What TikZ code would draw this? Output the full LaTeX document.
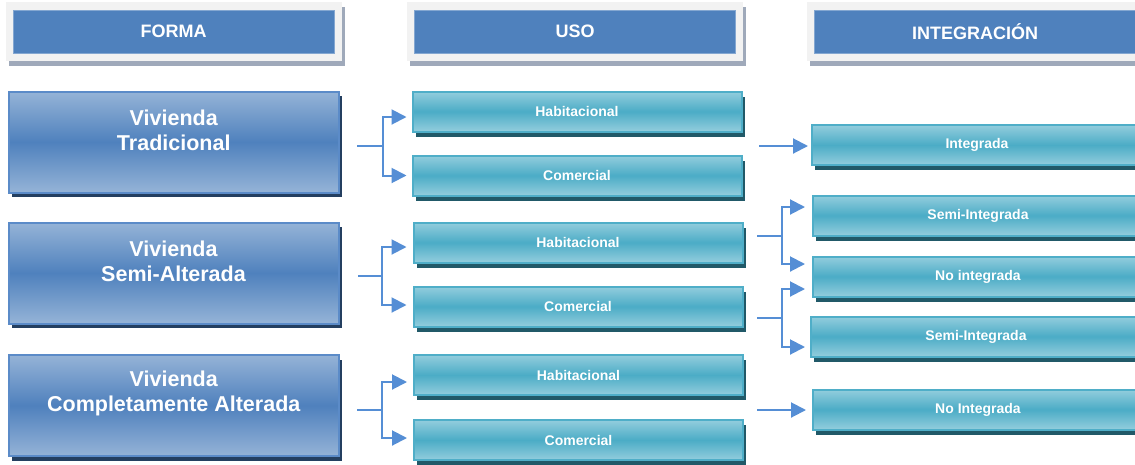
\documentclass[tikz,border=0pt]{standalone}
\usepackage{fontspec}
\setmainfont{Liberation Sans}
\usetikzlibrary{arrows.meta,shadows}
\definecolor{hdrblue}{HTML}{4F81BD}
\definecolor{framegrey}{HTML}{F2F2F2}
\definecolor{hshadow}{HTML}{9FA9BA}
\definecolor{bigmid}{HTML}{4F81BD}
\definecolor{bigedge}{HTML}{95B3D7}
\definecolor{bigborder}{HTML}{5B8BC8}
\definecolor{bigshadow}{HTML}{243F60}
\definecolor{tealmid}{HTML}{4BACC6}
\definecolor{tealedge}{HTML}{93CDDD}
\definecolor{tealborder}{HTML}{4FAEC8}
\definecolor{tealshadow}{HTML}{215968}
\definecolor{conncol}{HTML}{558ED5}
\begin{document}
\begin{tikzpicture}[x=1pt,y=-1pt,
 hframe/.style={rectangle, fill=framegrey, minimum width=336pt, minimum height=59pt, inner sep=0pt,
   general shadow={fill=hshadow, shadow xshift=3pt, shadow yshift=-5pt}},
 hdr/.style={rectangle, fill=hdrblue, draw=hdrblue!70!white, line width=0.6pt, text=white,
   font=\bfseries\fontsize{18}{21}\selectfont, minimum width=321pt, minimum height=43pt, inner sep=0pt},
 bigbox/.style={rectangle, draw=bigborder, line width=2pt, top color=bigedge, bottom color=bigedge,
   middle color=bigmid, minimum width=330pt, minimum height=101pt, inner sep=0pt,
   general shadow={fill=bigshadow, shadow xshift=3.5pt, shadow yshift=-4.5pt}},
 bigtxt/.style={text=white, align=center, font=\bfseries\fontsize{21.5}{25}\selectfont, yshift=12pt},
 usebox/.style={rectangle, draw=tealborder, line width=2pt, top color=tealedge, bottom color=tealedge,
   middle color=tealmid, minimum width=329pt, minimum height=40pt, inner sep=0pt, text=white,
   font=\bfseries\fontsize{14}{16}\selectfont,
   general shadow={fill=tealshadow, shadow xshift=3pt, shadow yshift=-5pt}},
 intbox/.style={usebox, minimum width=330pt},
 conn/.style={draw=conncol, line width=2pt, -{Triangle[length=15pt,width=15pt]}}
]
\useasboundingbox (0,0) rectangle (1135,464);
\clip (0,0) rectangle (1135,464);

% headers
\node[hframe] (ff) at (174,31.5) {};
\node[hdr] (hf) at (173.5,31.5) {FORMA};
\node[hframe] (fu) at (575,31.5) {};
\node[hdr] (hu) at (575,31.5) {USO};
\node[hframe] (fi) at (974.5,31.5) {};
\node[hdr] (hi) at (975,31.5) {INTEGRACIÓN};

% forma
\node[bigbox, label={[bigtxt]center:Vivienda\\Tradicional}] (t1) at (173.75,142) {};
\node[bigbox, label={[bigtxt]center:Vivienda\\Semi-Alterada}] (t2) at (173.5,273) {};
\node[bigbox, label={[bigtxt]center:Vivienda\\Completamente Alterada}] (t3) at (173.75,405.5) {};

% uso
\node[usebox] (h1) at (577,111.5) {Habitacional};
\node[usebox] (c1) at (577,175.5) {Comercial};
\node[usebox] (h2) at (578,242.5) {Habitacional};
\node[usebox] (c2) at (578,306.5) {Comercial};
\node[usebox] (h3) at (578.5,375) {Habitacional};
\node[usebox] (c3) at (578.5,440) {Comercial};

% integracion
\node[intbox] (ig) at (977,145) {Integrada};
\node[intbox] (si1) at (978,215.5) {Semi-Integrada};
\node[intbox] (ni1) at (978,276.5) {No integrada};
\node[intbox] (si2) at (976,336.5) {Semi-Integrada};
\node[intbox] (ni2) at (978,409.5) {No Integrada};

% connectors forma -> uso
\coordinate (s1) at (357,146);
\draw[conn, shorten >=5pt] (s1) -- ++(26,0) |- ([yshift=-5.5pt]h1.west);
\draw[conn, shorten >=5pt] (s1) -- ++(26,0) |- (c1.west);
\coordinate (s2) at (358,276);
\draw[conn, shorten >=6pt] (s2) -- ++(24,0) |- ([yshift=-4.5pt]h2.west);
\draw[conn, shorten >=6pt] (s2) -- ++(24,0) |- ([yshift=1.5pt]c2.west);
\coordinate (s3) at (357,409.5);
\draw[conn, shorten >=6pt] (s3) -- ++(25,0) |- ([yshift=-7pt]h3.west);
\draw[conn, shorten >=6pt] (s3) -- ++(25,0) |- ([yshift=2pt]c3.west);

% connectors uso -> integracion
\coordinate (s4) at (759,146);
\draw[conn, shorten >=3pt] (s4) -- (s4 -| ig.west);
\coordinate (s5) at (757,236);
\draw[conn, shorten >=7pt] (s5) -- ++(25,0) |- ([yshift=8.5pt]si1.west);
\draw[conn, shorten >=7pt] (s5) -- ++(25,0) |- ([yshift=12.5pt]ni1.west);
\coordinate (s6) at (757,317.5);
\draw[conn, shorten >=7pt] (s6) -- ++(25,0) |- ([yshift=-12.5pt]ni1.west);
\draw[conn, shorten >=5pt] (s6) -- ++(25,0) |- ([yshift=-10.5pt]si2.west);
\coordinate (s7) at (757,410);
\draw[conn, shorten >=6pt] (s7) -- (s7 -| ni2.west);
\end{tikzpicture}
\end{document}
